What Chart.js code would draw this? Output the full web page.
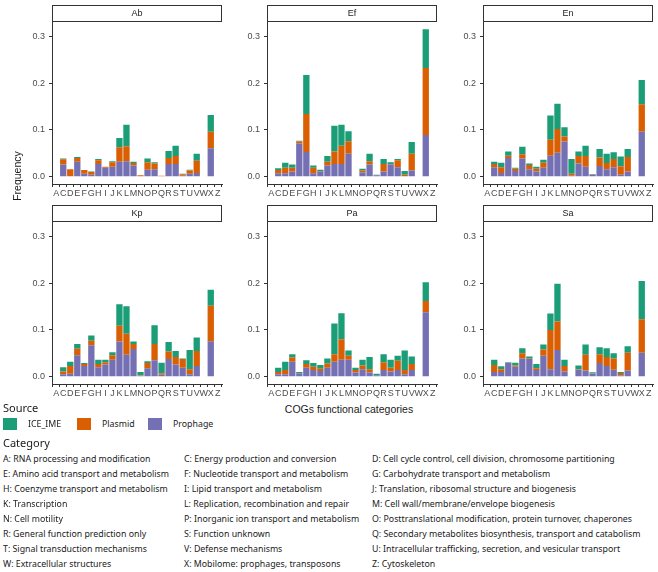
<!DOCTYPE html>
<html><head><meta charset="utf-8">
<script src="https://cdn.jsdelivr.net/npm/chart.js@4"></script>
<style>
body{margin:0;background:#fff;width:658px;height:572px;position:relative;overflow:hidden;font-family:"Liberation Sans",Arial,sans-serif;}
canvas{position:absolute;}
.t{position:absolute;white-space:nowrap;color:#1a1a1a;line-height:1;}
.leg{font-family:"Noto Sans",sans-serif;color:#1a1a1a;}
.sw{position:absolute;width:14px;height:12px;}
</style></head><body>
<script>
const categories = ['A','C','D','E','F','G','H','I','J','K','L','M','N','O','P','Q','R','S','T','U','V','W','X','Z'];
const panelNames = ['Ab','Ef','En','Kp','Pa','Sa'];
const yTickValues = [0, 0.1, 0.2, 0.3];
const sourceNames = ['ICE_IME','Plasmid','Prophage'];

const abProphage = [0,0.026,0.001,0.032,0.006,0.004,0.027,0.019,0.021,0.032,0.033,0.024,0.001,0.015,0.016,0,0.027,0.027,0.002,0.006,0.008,0,0.061,0];
const abPlasmid  = [0,0.011,0.015,0.008,0.008,0.006,0.008,0.002,0.010,0.031,0.032,0.005,0.002,0.016,0.012,0.002,0.013,0.017,0.003,0.007,0.026,0,0.035,0];
const abIce      = [0,0.002,0,0.002,0,0.001,0.003,0,0.002,0.020,0.046,0.003,0,0.008,0.003,0,0.015,0.022,0.001,0.002,0.015,0,0.036,0];

const efProphage = [0,0.007,0.007,0.011,0.071,0.053,0.007,0.011,0.024,0.027,0.027,0.049,0,0.009,0.026,0.003,0.011,0.026,0.020,0.001,0.013,0,0.089,0];
const efPlasmid  = [0,0.007,0.012,0.008,0.004,0.081,0.012,0.001,0.008,0.027,0.039,0.027,0,0.004,0.007,0,0.016,0.001,0.015,0.003,0.036,0,0.144,0];
const efIce      = [0,0.004,0.011,0.007,0.002,0.084,0.005,0.003,0.012,0.055,0.045,0.021,0,0.004,0.016,0.001,0.011,0.004,0.003,0.008,0.025,0,0.083,0];

const enProphage = [0,0.020,0.008,0.040,0.012,0.039,0.016,0.011,0.019,0.045,0.051,0.075,0.002,0.028,0.021,0.004,0.023,0.016,0.020,0.004,0.011,0.001,0.096,0];
const enPlasmid  = [0,0.007,0.012,0.005,0.005,0.009,0.009,0.006,0.011,0.034,0.051,0.011,0.004,0.016,0.023,0.0005,0.018,0.013,0.018,0.018,0.031,0,0.059,0];
const enIce      = [0,0.005,0.010,0.009,0.002,0.016,0.003,0.004,0.006,0.052,0.054,0.020,0.032,0.010,0.022,0.001,0.018,0.020,0.014,0.021,0.017,0,0.052,0];

const kpProphage = [0,0.005,0.006,0.046,0.023,0.067,0.020,0.026,0.036,0.075,0.047,0.059,0.002,0.018,0.035,0.004,0.038,0.026,0.019,0.005,0.023,0,0.076,0];
const kpPlasmid  = [0,0.006,0.017,0.014,0.004,0.010,0.007,0.005,0.010,0.034,0.045,0.011,0.001,0.011,0.035,0.003,0.016,0.016,0.019,0.011,0.032,0,0.076,0];
const kpIce      = [0,0.009,0.009,0.010,0.002,0.011,0.009,0.005,0.006,0.046,0.059,0.005,0.007,0.004,0.040,0.023,0.020,0.013,0.001,0.041,0.029,0.001,0.034,0];

const paProphage = [0,0.005,0.005,0.032,0.007,0.019,0.014,0.012,0.019,0.032,0.036,0.036,0.009,0.016,0.009,0.003,0.014,0.011,0.014,0.005,0.014,0,0.138,0];
const paPlasmid  = [0.001,0.005,0.009,0.009,0.001,0.008,0.007,0.005,0.009,0.016,0.044,0.009,0.005,0.008,0.007,0,0.017,0.008,0.020,0.009,0.013,0,0.024,0];
const paIce      = [0,0.009,0.018,0.007,0.002,0.008,0.008,0.008,0.011,0.066,0.056,0.011,0.005,0.012,0.026,0.003,0.017,0.017,0.011,0.042,0.016,0,0.040,0];

const saProphage = [0,0.010,0.010,0.030,0.021,0.039,0.038,0.014,0.045,0.016,0.057,0.011,0,0.015,0.013,0.006,0.029,0.023,0.015,0.003,0.013,0,0.051,0];
const saPlasmid  = [0,0.015,0.006,0,0.003,0.011,0.001,0.004,0.013,0.084,0.061,0.012,0,0.001,0.034,0.0005,0.019,0.019,0.024,0.005,0.038,0,0.072,0];
const saIce      = [0,0.011,0.006,0.001,0.006,0.011,0.004,0.009,0.011,0.035,0.081,0.013,0,0.008,0.022,0.003,0.015,0.019,0.011,0.002,0.014,0,0.082,0];

const categoryDescriptions = [
  ['A: RNA processing and modification','C: Energy production and conversion','D: Cell cycle control, cell division, chromosome partitioning'],
  ['E: Amino acid transport and metabolism','F: Nucleotide transport and metabolism','G: Carbohydrate transport and metabolism'],
  ['H: Coenzyme transport and metabolism','I: Lipid transport and metabolism','J: Translation, ribosomal structure and biogenesis'],
  ['K: Transcription','L: Replication, recombination and repair','M: Cell wall/membrane/envelope biogenesis'],
  ['N: Cell motility','P: Inorganic ion transport and metabolism','O: Posttranslational modification, protein turnover, chaperones'],
  ['R: General function prediction only','S: Function unknown','Q: Secondary metabolites biosynthesis, transport and catabolism'],
  ['T: Signal transduction mechanisms','V: Defense mechanisms','U: Intracellular trafficking, secretion, and vesicular transport'],
  ['W: Extracellular structures','X: Mobilome: prophages, transposons','Z: Cytoskeleton']
];

const GREEN = '#1B9E77', ORANGE = '#D95F02', PURPLE = '#7570B3';
const panelSeries = [
  [abProphage, abPlasmid, abIce],
  [efProphage, efPlasmid, efIce],
  [enProphage, enPlasmid, enIce],
  [kpProphage, kpPlasmid, kpIce],
  [paProphage, paPlasmid, paIce],
  [saProphage, saPlasmid, saIce]
];

const PLOT_LEFTS = [52, 267, 483];
const ROW_TOPS = [4, 204];
const PLOT_W = 170, AX_W = 32, STRIP_H = 17.5, XAX_H = 16, CV_H = 196;
const AXIS_FONT = {family: '"Liberation Sans", Arial, sans-serif', size: 9};

function stripPlugin(name) {
  return {
    id: 'strip',
    afterDraw(chart) {
      const ctx = chart.ctx, a = chart.chartArea;
      const x1 = Math.round(a.left) + 0.5, x2 = Math.round(a.right) - 0.5;
      const y1 = 1.5, y2 = Math.round(a.top) - 0.5;
      ctx.save();
      ctx.fillStyle = '#fff';
      ctx.fillRect(x1, y1, x2 - x1, y2 - y1);
      ctx.strokeStyle = '#333';
      ctx.lineWidth = 1;
      ctx.strokeRect(x1, y1, x2 - x1, y2 - y1);
      ctx.fillStyle = '#1a1a1a';
      ctx.font = '9px "Liberation Sans", Arial, sans-serif';
      ctx.textAlign = 'center';
      ctx.textBaseline = 'middle';
      ctx.fillText(name, (x1 + x2) / 2, (y1 + y2) / 2 + 0.5);
      ctx.restore();
    }
  };
}

function toPoints(arr) { return arr.map((v, i) => ({x: i, y: v})); }

panelNames.forEach((name, idx) => {
  const col = idx % 3, row = Math.floor(idx / 3);
  const cv = document.createElement('canvas');
  const W = AX_W + PLOT_W + 2;
  cv.width = W; cv.height = CV_H;
  cv.style.width = W + 'px'; cv.style.height = CV_H + 'px';
  cv.style.left = (PLOT_LEFTS[col] - AX_W) + 'px';
  cv.style.top = ROW_TOPS[row] + 'px';
  document.body.appendChild(cv);
  const [pro, pla, ice] = panelSeries[idx];
  new Chart(cv, {
    type: 'bar',
    data: {
      datasets: [
        {label: sourceNames[2], data: toPoints(pro), backgroundColor: PURPLE},
        {label: sourceNames[1], data: toPoints(pla), backgroundColor: ORANGE},
        {label: sourceNames[0], data: toPoints(ice), backgroundColor: GREEN}
      ]
    },
    options: {
      responsive: false, animation: false, devicePixelRatio: 1,
      layout: {padding: {top: STRIP_H, right: 2, left: 0, bottom: 0}},
      plugins: {legend: {display: false}, tooltip: {enabled: false}},
      datasets: {bar: {barPercentage: 0.9, categoryPercentage: 1, borderWidth: 0}},
      scales: {
        x: {
          type: 'linear', stacked: true, min: -0.6, max: 23.6, offset: false,
          afterBuildTicks: s => { s.ticks = categories.map((c, i) => ({value: i})); },
          afterFit: s => { s.height = XAX_H; },
          ticks: {callback: v => categories[v], autoSkip: false, maxRotation: 0, minRotation: 0,
                  font: AXIS_FONT, color: '#4d4d4d', padding: 1},
          grid: {drawOnChartArea: false, drawTicks: true, tickLength: 3, color: '#333', tickColor: '#333'},
          border: {display: true, color: '#333', width: 1}
        },
        y: {
          type: 'linear', stacked: true, min: -0.0158, max: 0.3324,
          afterBuildTicks: s => { s.ticks = yTickValues.map(v => ({value: v})); },
          afterFit: s => { s.width = AX_W; },
          ticks: {callback: v => v.toFixed(1), font: AXIS_FONT, color: '#4d4d4d', padding: 4},
          grid: {drawOnChartArea: false, drawTicks: true, tickLength: 3, color: '#333', tickColor: '#333'},
          border: {display: true, color: '#333', width: 1}
        }
      }
    },
    plugins: [stripPlugin(name)]
  });
});

function addText(txt, left, top, css, cls) {
  const d = document.createElement('div');
  d.className = 't' + (cls ? ' ' + cls : '');
  d.textContent = txt;
  d.style.left = left + 'px'; d.style.top = top + 'px';
  d.style.cssText += css || '';
  document.body.appendChild(d);
  return d;
}

addText('Frequency', 17, 176, 'font-size:10.5px;transform:translate(-50%,-50%) rotate(-90deg);');
addText('COGs functional categories', 349, 409, 'font-size:10.5px;transform:translate(-50%,-50%);');

addText('Source', 3, 407, 'font-size:11px;transform:translateY(-50%);', 'leg');
const swatchX = [3, 77, 148];
const swatchColors = [GREEN, ORANGE, PURPLE];
sourceNames.forEach((s, i) => {
  const sw = document.createElement('div');
  sw.className = 'sw';
  sw.style.left = swatchX[i] + 'px'; sw.style.top = '418px';
  sw.style.background = swatchColors[i];
  document.body.appendChild(sw);
  addText(s, swatchX[i] + 25, 424, 'font-size:8.8px;transform:translateY(-50%);', 'leg');
});
addText('Category', 3, 442, 'font-size:11px;transform:translateY(-50%);', 'leg');
const rowY = [459.3, 474.3, 489.3, 504.3, 519, 534, 549, 563.7];
const colX = [3, 184, 372];
categoryDescriptions.forEach((r, ri) => {
  r.forEach((txt, ci) => {
    addText(txt, colX[ci], rowY[ri], 'font-size:8.8px;transform:translateY(-50%);', 'leg');
  });
});
</script>
</body></html>
